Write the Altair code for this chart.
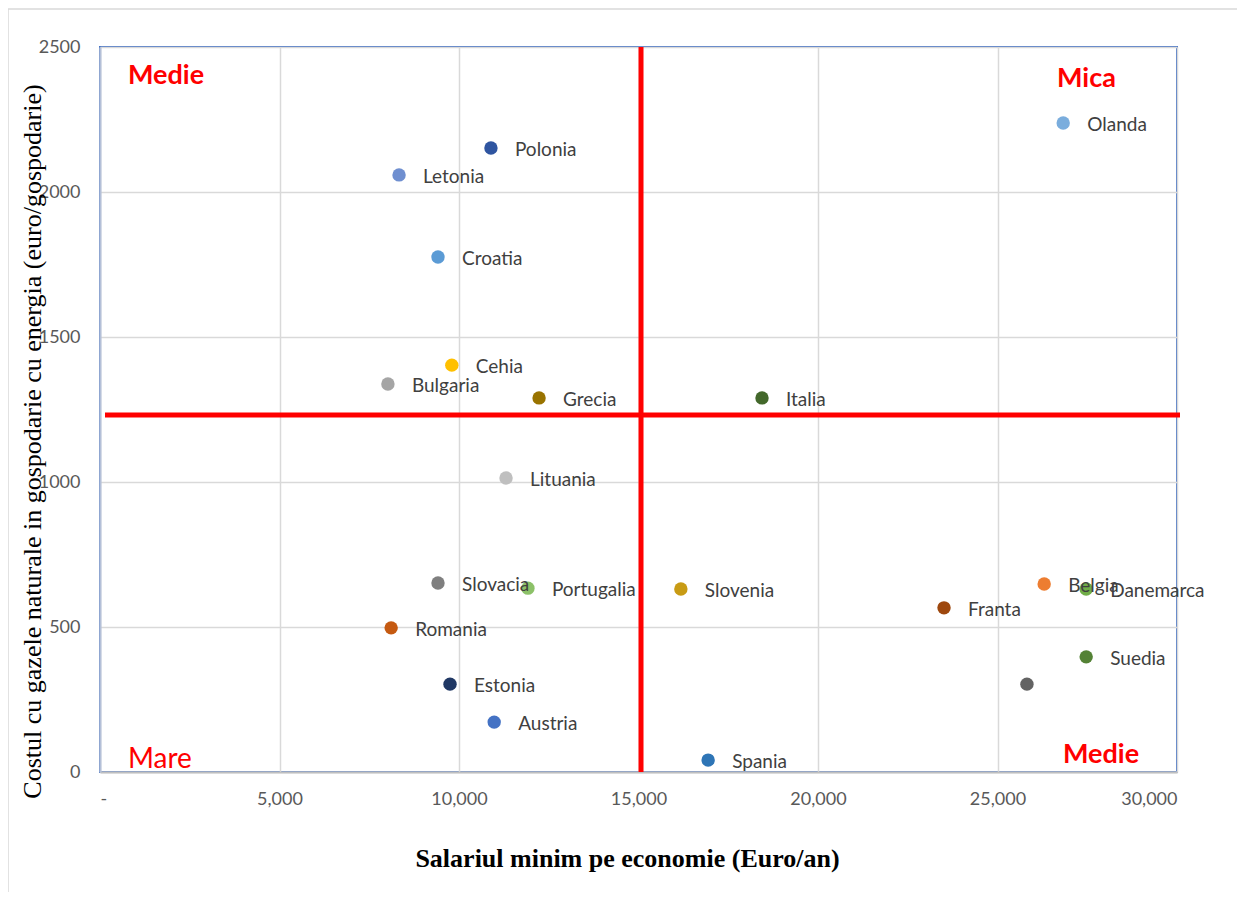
import altair as alt
import pandas as pd

countries = ["Polonia", "Letonia", "Croatia", "Cehia", "Bulgaria", "Grecia", "Italia",
             "Lituania", "Slovacia", "Portugalia", "Slovenia", "Romania", "Estonia",
             "Austria", "Spania", "Olanda", "Belgia", "Danemarca", "Franta", "Suedia", ""]
salary = [10890, 8330, 9415, 9800, 8020, 12230, 18440,
          11310, 9415, 11920, 16180, 8110, 9750,
          10980, 16940, 26830, 26300, 27470, 23510, 27470, 25820]
cost = [2152, 2059, 1776, 1403, 1338, 1290, 1290,
        1014, 652, 634, 631, 497, 303,
        172, 41, 2238, 648, 631, 566, 397, 303]
colors = ["#2F55A0", "#6F8FD0", "#5B9BD5", "#FFC000", "#A5A5A5", "#997300", "#43682B",
          "#BFBFBF", "#7F7F7F", "#8CC168", "#C89B14", "#C55A11", "#203864",
          "#4472C4", "#2E75B6", "#7AADDD", "#ED7D31", "#70AD47", "#9E480E", "#548235", "#636363"]

x_split = [15070]
y_split = [1231]

quadrant_text = ["Medie", "Mica", "Mare", "Medie"]

df = pd.DataFrame({"tara": countries, "salariu": salary, "cost": cost, "culoare": colors})

W, H = 1077, 725

xscale = alt.Scale(domain=[0, 30000], nice=False, zero=True)
yscale = alt.Scale(domain=[0, 2500], nice=False, zero=True)

xaxis = alt.Axis(
    values=[0, 5000, 10000, 15000, 20000, 25000, 30000],
    labelExpr="datum.value == 0 ? '-' : format(datum.value, ',')",
    title="Salariul minim pe economie (Euro/an)",
    titleFont="Liberation Serif", titleFontSize=26, titleFontWeight="bold",
    titleColor="#000000", titleX=527, titleY=86, titleBaseline="middle",
    labelFont="Lato", labelFontSize=18, labelColor="#595959", labelPadding=18,
    ticks=False, domainColor="#BFBFBF", domainWidth=2,
    gridColor="#D9D9D9", gridWidth=1.5,
)
yaxis = alt.Axis(
    values=[0, 500, 1000, 1500, 2000, 2500],
    format="d",
    title="Costul cu gazele naturale in gospodarie cu energia (euro/gospodarie)",
    titleFont="Liberation Serif", titleFontSize=26, titleFontWeight="normal",
    titleColor="#000000", titleX=-68, titleY=394, titleAngle=-90,
    titleBaseline="middle", titleAlign="center",
    labelFont="Lato", labelFontSize=18, labelColor="#595959", labelPadding=20,
    ticks=False, domainColor="#B4C0D8", domainWidth=2,
    gridColor="#D9D9D9", gridWidth=1.5,
)

base = alt.Chart(df)

frame = alt.Chart(pd.DataFrame({"a": [0]})).mark_rect(
    fill=None, stroke="#D9D9D9", strokeWidth=1.5
).encode(x=alt.value(-92), x2=alt.value(1300), y=alt.value(-38), y2=alt.value(1000))

points = base.mark_circle(size=180, opacity=1).encode(
    x=alt.X("salariu:Q", scale=xscale, axis=xaxis),
    y=alt.Y("cost:Q", scale=yscale, axis=yaxis),
    color=alt.Color("culoare:N", scale=None),
)

labels = base.mark_text(
    align="left", baseline="middle", dx=24, dy=2, font="Lato", fontSize=19, color="#404040"
).encode(
    x="salariu:Q", y="cost:Q", text="tara:N"
)

vline = alt.Chart(pd.DataFrame({"x": x_split})).mark_rule(color="#FF0000", strokeWidth=5).encode(
    x="x:Q", y=alt.value(0), y2=alt.value(H)
)
hline = alt.Chart(pd.DataFrame({"y": y_split})).mark_rule(color="#FF0000", strokeWidth=5).encode(
    y="y:Q", x=alt.value(5), x2=alt.value(1080)
)

q_pos_x = [28, 957, 28, 963]
q_pos_y = [29, 32, 713, 708]
q_size = [27, 27, 28, 27]

qlabels = []
for i, t in enumerate(quadrant_text):
    qlabels.append(
        alt.Chart(pd.DataFrame({"t": [t]})).mark_text(
            align="left", baseline="middle", font="Lato", fontSize=q_size[i],
            fontWeight="bold" if i != 2 else "normal", color="#FF0000"
        ).encode(x=alt.value(q_pos_x[i]), y=alt.value(q_pos_y[i]), text="t:N")
    )

chart = alt.layer(frame, vline, hline, points, labels, *qlabels).properties(
    width=W, height=H,
    autosize=alt.AutoSizeParams(type="none"),
    padding={"left": 92, "top": 39, "right": 60, "bottom": 120},
    background="white",
).configure_view(stroke="#4472C4", strokeWidth=2)

chart.save("out.html", embed_options={"renderer": "svg", "actions": False})
